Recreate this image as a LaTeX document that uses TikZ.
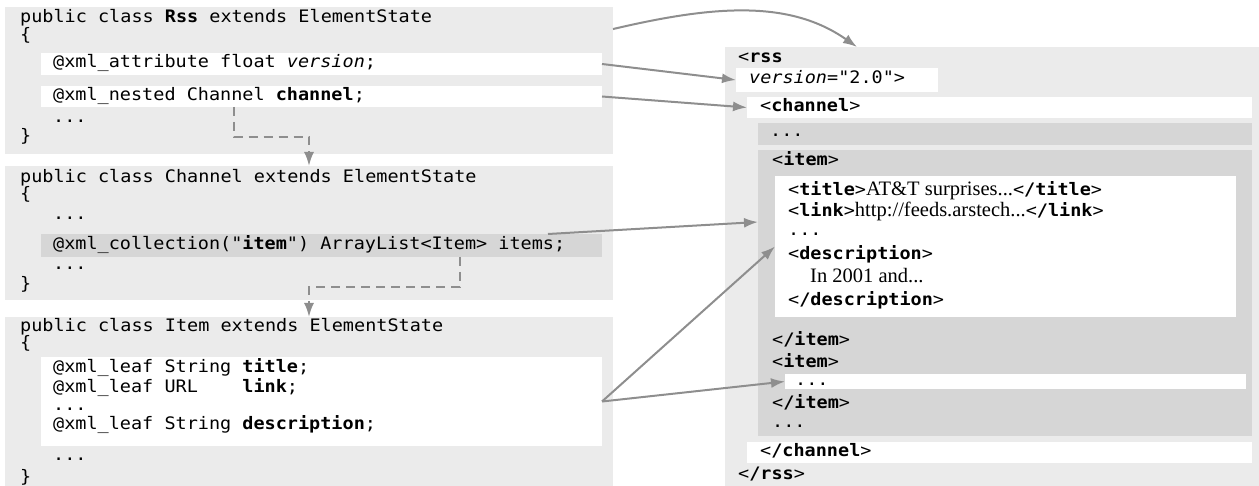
\documentclass[tikz,border=0pt]{standalone}
\usepackage{fontspec}
\usetikzlibrary{positioning,calc,arrows.meta}
\newfontfamily\codefont{DejaVu Sans Mono}[FakeStretch=1.075]
\newfontfamily\textserif{Liberation Serif}
\definecolor{boxgray}{HTML}{EBEBEB}
\definecolor{rowgray}{HTML}{D6D6D6}
\definecolor{arrowgray}{HTML}{8E8E8E}
\newcommand{\xtag}[1]{<\textbf{#1}>}
\newcommand{\xtxt}[1]{{\textserif\fontsize{20.5}{22}\selectfont #1}}
\tikzstyle{panel}=[rectangle, fill=boxgray, inner sep=0pt, outer sep=0pt, anchor=north west]
\tikzstyle{whitebar}=[panel, fill=white]
\tikzstyle{darkbar}=[panel, fill=rowgray]
\tikzstyle{code}=[anchor=west, inner sep=0pt, font=\codefont\fontsize{17.2}{20}\selectfont,
        text height=12pt, text depth=4pt]
\tikzstyle{maplink}=[draw=arrowgray, line width=2pt, -{Latex[length=14pt,width=10pt]}]
\tikzstyle{dashlink}=[maplink, dash pattern=on 9pt off 6pt]

\begin{document}
\begin{tikzpicture}[x=1pt,y=-1pt]
        \useasboundingbox (0,0) rectangle (1259,486);
        % java classes
        \node (rssbox) [panel, minimum width=608pt, minimum height=147pt] at (5,7) {};
        \node (attrbar) [whitebar, minimum width=561pt, minimum height=22pt] at (41,53) {};
        \node (nestbar) [whitebar, minimum width=561pt, minimum height=21pt] at (41,86) {};
        \node (chanbox) [panel, minimum width=608pt, minimum height=134pt] at (5,166) {};
        \node (collbar) [darkbar, minimum width=561pt, minimum height=23pt] at (41,234) {};
        \node (itembox) [panel, minimum width=608pt, minimum height=169pt] at (5,317) {};
        \node (leafbar) [whitebar, minimum width=561pt, minimum height=89pt] at (41,357) {};
        % xml document
        \node (xmlbox) [panel, minimum width=534pt, minimum height=439pt] at (725,47) {};
        \node (verbox) [whitebar, minimum width=202pt, minimum height=24pt] at (736,68) {};
        \node (chanbar) [whitebar, minimum width=505pt, minimum height=21pt] at (747,97) {};
        \node (dotsrow) [darkbar, minimum width=494pt, minimum height=22pt] at (758,123) {};
        \node (itemarea) [darkbar, minimum width=494pt, minimum height=286pt] at (758,150) {};
        \node (itembody) [whitebar, minimum width=461pt, minimum height=141pt] at (775,176) {};
        \node (item2bar) [whitebar, minimum width=461pt, minimum height=15pt] at (785,374) {};
        \node (chanend) [whitebar, minimum width=505pt, minimum height=21pt] at (747,442) {};

        \node (rsshead) [code] at (20,19) {public class \textbf{Rss} extends ElementState};
        \node (rssopen) [code] at (20,37) {\{};
        \node (rssattr) [code] at (53,64) {@xml\_attribute float \textit{version};};
        \node (rssnest) [code] at (53,97) {@xml\_nested Channel \textbf{channel};};
        \node (rssmore) [code] at (53,119) {...};
        \node (rssclose) [code] at (20,138) {\}};

        \node (chanhead) [code] at (20,179) {public class Channel extends ElementState};
        \node (chanopen) [code] at (20,196) {\{};
        \node (chanmore) [code] at (53,216) {...};
        \node (chancoll) [code] at (53,246) {@xml\_collection("\textbf{item}") ArrayList<Item> items;};
        \node (chanrest) [code] at (53,266) {...};
        \node (chanclose) [code] at (20,286) {\}};

        \node (itemhead) [code] at (20,328) {public class Item extends ElementState};
        \node (itemopen) [code] at (20,345) {\{};
        \node (leaftitle) [code] at (53,369) {@xml\_leaf String \textbf{title};};
        \node (leaflink) [code] at (53,388) {@xml\_leaf URL\ \ \ \ \textbf{link};};
        \node (leafmore) [code] at (53,406) {...};
        \node (leafdesc) [code] at (53,425) {@xml\_leaf String \textbf{description};};
        \node (itemmore) [code] at (53,456) {...};
        \node (itemclose) [code] at (20,478) {\}};

        \node (xrss) [code] at (738,59) {<\textbf{rss}};
        \node (xver) [code] at (749,80) {\textit{version}="2.0">};
        \node (xchan) [code] at (760,107.5) {\xtag{channel}};
        \node (xdots) [code] at (770,133) {...};
        \node (xitem) [code] at (772,162) {\xtag{item}};
        \node (xtitle) [code] at (788,192) {\xtag{title}\xtxt{AT\&T surprises...}\xtag{/title}};
        \node (xlink) [code] at (788,213) {\xtag{link}\xtxt{http://feeds.arstech...}\xtag{/link}};
        \node (xmore) [code] at (788,232) {...};
        \node (xdesc) [code] at (788,256) {\xtag{description}};
        \node (xdesctxt) [code] at (810,279) {\xtxt{In 2001 and...}};
        \node (xdescend) [code] at (788,302) {\xtag{/description}};
        \node (xitemend) [code] at (772,342) {\xtag{/item}};
        \node (xitem2) [code] at (772,363) {\xtag{item}};
        \node (xitem2dots) [code] at (795,381.5) {...};
        \node (xitem2end) [code] at (772,405) {\xtag{/item}};
        \node (xrest) [code] at (772,423) {...};
        \node (xchanend) [code] at (760,452.5) {\xtag{/channel}};
        \node (xrssend) [code] at (738,475) {\xtag{/rss}};

        % mappings
        \draw[maplink] ($(rssbox.north east)!0.15!(rssbox.south east)$)
                .. controls (715,5) and (790,0) .. ([xshift=132pt]xmlbox.north west);
        \draw[maplink] (attrbar.east) -- (verbox.west);
        \draw[maplink] (nestbar.east) -- (chanbar.west);
        \draw[maplink] ([xshift=-54pt]collbar.north east) -- ([yshift=-72pt]itemarea.north west);
        \draw[maplink] (leafbar.east) -- (itembody.west);
        \draw[maplink] (leafbar.east) -- (item2bar.west);
        \draw[dashlink] ([xshift=-88pt]nestbar.south) -- ++(0,30) -| (chanbox.north);
        \draw[dashlink] ([xshift=138pt]collbar.south) -- ++(0,30) -| (itembox.north);
\end{tikzpicture}
\end{document}
